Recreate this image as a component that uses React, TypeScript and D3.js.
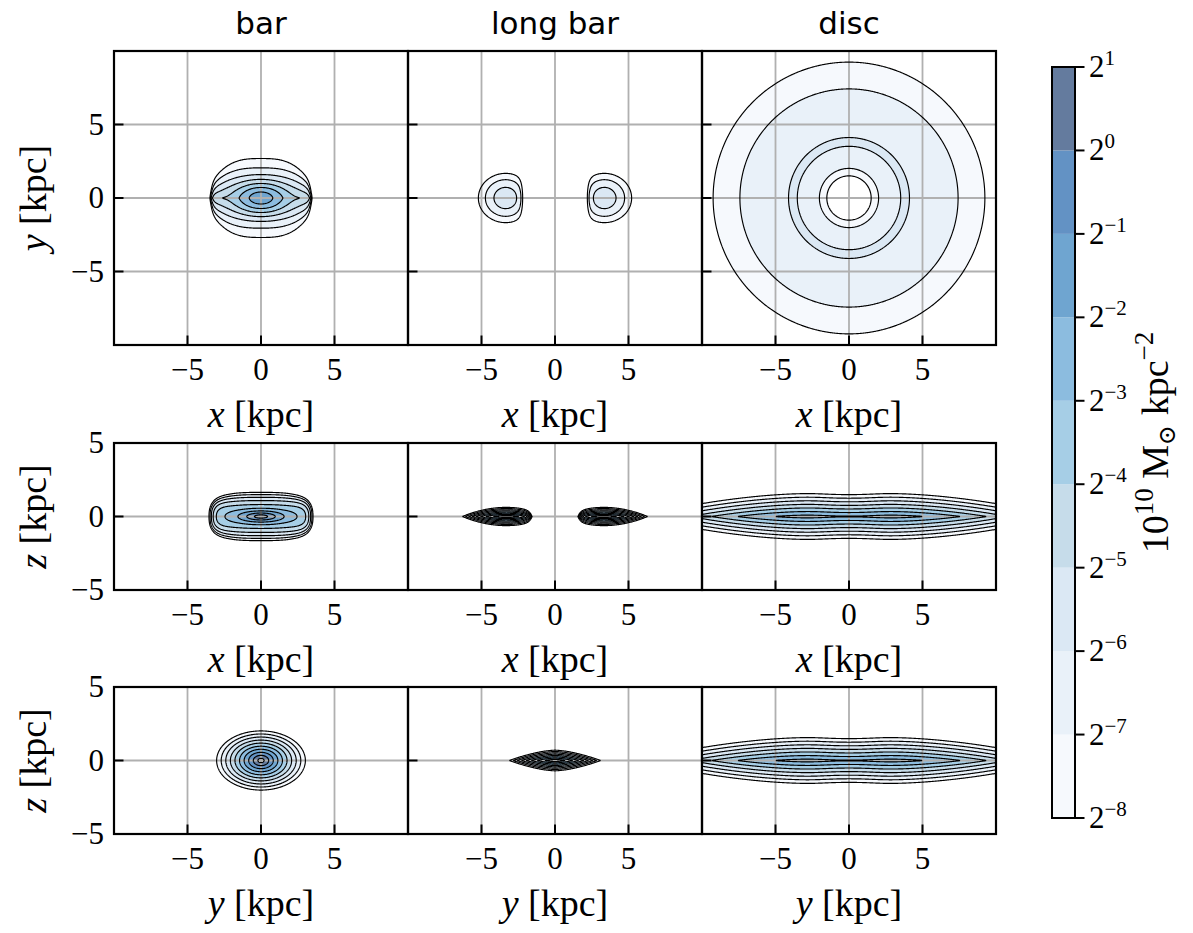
import React, { useMemo } from 'react';
import * as d3 from 'd3';

// contour levels are powers of two, in 10^10 Msun kpc^-2
const levelExp = [-8, -7, -6, -5, -4, -3, -2, -1, 0, 1];
const bandColors = ['#f6f9fd', '#e9f1f9', '#dbe8f4', '#c6dcea', '#a6cee6', '#8cbcdf', '#6fa5d0', '#6392c4', '#647b9e'];

const columnTitles = ['bar', 'long bar', 'disc'];
const rowAxes = [['x', 'y'], ['x', 'z'], ['y', 'z']];
const tickValues = [-5, 0, 5];
const uRange = [-10, 10];
const vRanges = [[-10, 10], [-5, 5], [-5, 5]];

// surface density components
// [amplitude, centre offset, u scale, u power, v scale, v power, outer power, taper, taper length]
const barXY = [
  [0.057, 0, 1e6, 2, 1.0, 1, 1, 0.65, 3.45],
  [0.383, 0, 1.04, 2, 0.58, 2, 0.75, 0, 1],
];
const barXZ = [
  [0.088, 0, 1e6, 2, 1.04, 2.5, 1, 0.3, 3.45],
  [1.82, 0, 0.65, 2, 0.16, 2, 0.5, 0, 1],
];
const barYZ = [[3.2, 0, 0.45, 2, 0.3, 2, 0.5, 0, 1]];
const longBarXY = [[0.027, 3.35, 1.2, 2, 1.08, 2, 0.75, 0, 1]];
const longBarXZ = [[0.87, 3.3, 1.29, 2, 0.115, 1, 1, 0, 1]];
const longBarYZ = [[0.86, 0, 1.083, 1.6, 0.13, 1, 1, 0, 1]];
// bar end [position, sharpness] and long bar inner hole [radius, sharpness]
const barXYWall = [3.36, 30];
const barXZWall = [3.21, 12];
const longBarXYHole = [2.2, 16];
const longBarXZHole = [1.8, 9];
// disc ring: [peak log2, peak radius, inner width, inner power, outer width, outer power]
const discRing = [-5.99, 3.9, 1.88, 2.9, 3.5, 1.65];
// edge-on disc: [midplane amplitude, scale height]
const discEdge = [0.268, 0.352];

const W = 1193;
const H = 933;
const colX = [114, 408, 702];
const panelW = 294;
const rowTop = [51, 443, 687];
const rowH = [294, 147, 147];
const NU = 400;
const NV = 400;

const serif = '"Liberation Serif", "DejaVu Serif", serif';

function compSum(comps: number[][], u: number, v: number) {
  let s = 0;
  for (const [amp, uc, su, pu, sv, pv, q, taper, tl] of comps) {
    const du = uc > 0 ? Math.abs(Math.abs(u) - uc) : Math.abs(u);
    const svEff = Math.max(0.02, sv * (1 - taper * Math.pow(Math.abs(u) / tl, 3)));
    const m = Math.pow(du / su, pu) + Math.pow(Math.abs(v) / svEff, pv);
    s += amp * Math.exp(-Math.pow(m, q));
  }
  return s;
}

const wall = (w: number[], u: number) => Math.exp(-Math.pow(Math.abs(u) / w[0], w[1]));
const hole = (h: number[], u: number) => Math.exp(-Math.pow(h[0] / Math.max(Math.abs(u), 1e-6), h[1]));

function discFace(R: number) {
  const [peak, r0, wi, pi, wo, po] = discRing;
  const d = R < r0 ? Math.pow((r0 - R) / wi, pi) : Math.pow((R - r0) / wo, po);
  return Math.pow(2, peak - d);
}

// line-of-sight column of the face-on disc
function discColumn(x: number) {
  let s = 0;
  for (let y = -25; y <= 25; y += 0.05) s += discFace(Math.hypot(x, y)) * 0.05;
  return s;
}

const columnCache = new Map<number, number>();
const discCentre = discColumn(0);
function discEdgeOn(u: number, v: number) {
  let c = columnCache.get(u);
  if (c === undefined) {
    c = discColumn(u) / discCentre;
    columnCache.set(u, c);
  }
  return discEdge[0] * c * Math.exp(-Math.abs(v) / discEdge[1]);
}

const fields: ((u: number, v: number) => number)[][] = [
  [
    (u, v) => compSum(barXY, u, v) * wall(barXYWall, u),
    (u, v) => compSum(longBarXY, u, v) * hole(longBarXYHole, u),
    (u, v) => discFace(Math.hypot(u, v)),
  ],
  [
    (u, v) => compSum(barXZ, u, v) * wall(barXZWall, u),
    (u, v) => compSum(longBarXZ, u, v) * hole(longBarXZHole, u),
    discEdgeOn,
  ],
  [
    (u, v) => compSum(barYZ, u, v),
    (u, v) => compSum(longBarYZ, u, v),
    discEdgeOn,
  ],
];

function fmt(t: number) {
  return t < 0 ? '\u2212' + Math.abs(t) : String(t);
}

function buildPanel(r: number, c: number) {
  const vr = vRanges[r];
  const du = (uRange[1] - uRange[0]) / NU;
  const dv = (vr[1] - vr[0]) / NV;
  const f = fields[r][c];
  const values = new Array(NU * NV);
  for (let j = 0; j < NV; j++) {
    const v = vr[1] - (j + 0.5) * dv;
    for (let i = 0; i < NU; i++) {
      values[j * NU + i] = f(uRange[0] + (i + 0.5) * du, v);
    }
  }
  const sx = d3.scaleLinear().domain(uRange).range([colX[c], colX[c] + panelW]);
  const sy = d3.scaleLinear().domain(vr).range([rowTop[r] + rowH[r], rowTop[r]]);
  const proj = d3.geoTransform({
    point(this: any, gx: number, gy: number) {
      this.stream.point(sx(uRange[0] + gx * du), sy(vr[1] - gy * dv));
    },
  });
  const path = d3.geoPath(proj);
  const contours = d3.contours().size([NU, NV]).thresholds(levelExp.map((e) => Math.pow(2, e)))(values);
  return { sx, sy, paths: contours.map((g) => path(g as any) || '') };
}

function Panel({ r, c }: { r: number; c: number }) {
  const { sx, sy, paths } = useMemo(() => buildPanel(r, c), [r, c]);
  const x0 = colX[c];
  const y0 = rowTop[r];
  const h = rowH[r];
  const id = `clip-${r}-${c}`;
  const [uName, vName] = rowAxes[r];
  return (
    <g>
      <clipPath id={id}>
        <rect x={x0} y={y0} width={panelW} height={h} />
      </clipPath>
      <g clipPath={`url(#${id})`}>
        {paths.map((d, k) => (
          <path key={'f' + k} d={d} fill={k < bandColors.length ? bandColors[k] : '#ffffff'} stroke="none" />
        ))}
        {tickValues.map((t) => (
          <line key={'gx' + t} x1={sx(t)} x2={sx(t)} y1={y0} y2={y0 + h} stroke="#b0b0b0" strokeWidth={1.8} />
        ))}
        {tickValues.map((t) => (
          <line key={'gy' + t} x1={x0} x2={x0 + panelW} y1={sy(t)} y2={sy(t)} stroke="#b0b0b0" strokeWidth={1.8} />
        ))}
        {paths.map((d, k) => (
          <path key={'l' + k} d={d} fill="none" stroke="#000" strokeWidth={1.15} strokeLinejoin="round" />
        ))}
      </g>
      {tickValues.map((t) => (
        <line key={'tx' + t} x1={sx(t)} x2={sx(t)} y1={y0 + h} y2={y0 + h - 9.5} stroke="#000" strokeWidth={2} />
      ))}
      {tickValues.map((t) => (
        <line key={'ty' + t} x1={x0} x2={x0 + 9.5} y1={sy(t)} y2={sy(t)} stroke="#000" strokeWidth={2} />
      ))}
      <rect x={x0} y={y0} width={panelW} height={h} fill="none" stroke="#000" strokeWidth={2.2} />
      {tickValues.map((t) => (
        <text key={'lx' + t} x={sx(t)} y={y0 + h + 35} textAnchor="middle" fontFamily={serif} fontSize={31}>
          {fmt(t)}
        </text>
      ))}
      {c === 0 &&
        tickValues.map((t) => (
          <text key={'ly' + t} x={x0 - 10} y={sy(t) + 10} textAnchor="end" fontFamily={serif} fontSize={31}>
            {fmt(t)}
          </text>
        ))}
      <text x={x0 + panelW / 2} y={y0 + h + 82} textAnchor="middle" fontFamily={serif} fontSize={38}>
        <tspan fontStyle="italic">{uName}</tspan> [kpc]
      </text>
      {c === 0 && (
        <text transform={`translate(46, ${y0 + h / 2}) rotate(-90)`} textAnchor="middle" fontFamily={serif} fontSize={38}>
          <tspan fontStyle="italic">{vName}</tspan> [kpc]
        </text>
      )}
      {r === 0 && (
        <text x={x0 + panelW / 2} y={34} textAnchor="middle" fontFamily='"DejaVu Sans", sans-serif' fontSize={31}>
          {columnTitles[c]}
        </text>
      )}
    </g>
  );
}

function Colorbar() {
  const x0 = 1052;
  const w = 23;
  const cy = d3.scaleLinear().domain([levelExp[0], levelExp[levelExp.length - 1]]).range([818, 67]);
  return (
    <g>
      {bandColors.map((col, i) => (
        <rect key={i} x={x0} y={cy(levelExp[i + 1])} width={w} height={cy(levelExp[i]) - cy(levelExp[i + 1])} fill={col} />
      ))}
      <rect x={x0} y={cy(1)} width={w} height={cy(-8) - cy(1)} fill="none" stroke="#000" strokeWidth={2} />
      {levelExp.map((e) => (
        <g key={e}>
          <line x1={x0 + w} x2={x0 + w + 9.5} y1={cy(e)} y2={cy(e)} stroke="#000" strokeWidth={2} />
          <text x={x0 + w + 14} y={cy(e) + 10} fontFamily={serif} fontSize={31}>
            2<tspan dy={-12} fontSize={21}>{fmt(e)}</tspan>
          </text>
        </g>
      ))}
      <text transform={`translate(1168, ${cy(-3.5)}) rotate(-90)`} textAnchor="middle" fontFamily={serif} fontSize={38}>
        10<tspan dy={-15} fontSize={27}>10</tspan>
        <tspan dy={15}> M</tspan>
        <tspan dy={7} fontSize={24}>{'\u2299'}</tspan>
        <tspan dy={-7}> kpc</tspan>
        <tspan dy={-15} fontSize={27}>{'\u22122'}</tspan>
      </text>
    </g>
  );
}

export default function App() {
  return (
    <svg width={W} height={H} viewBox={`0 0 ${W} ${H}`} style={{ position: 'absolute', left: 0, top: 0, background: '#fff' }}>
      <rect width={W} height={H} fill="#fff" />
      {[0, 1, 2].map((r) => [0, 1, 2].map((c) => <Panel key={`${r}-${c}`} r={r} c={c} />))}
      <Colorbar />
    </svg>
  );
}
